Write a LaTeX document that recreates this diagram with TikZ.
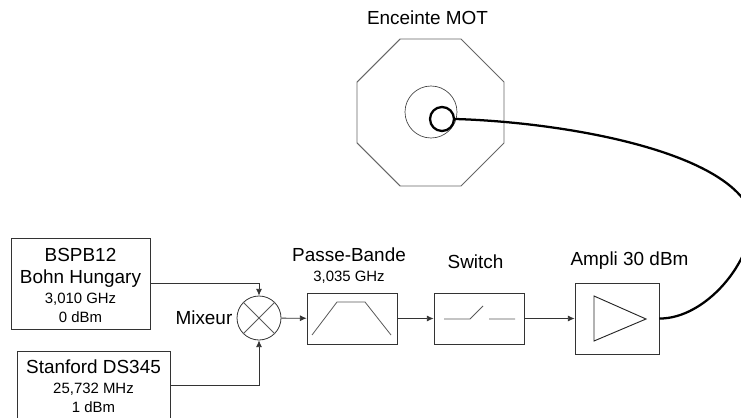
\documentclass[tikz,border=0pt]{standalone}
\usepackage{fontspec}
\setmainfont{Liberation Sans}
\usepackage{tikz}
\usetikzlibrary{arrows.meta,shapes.geometric}
\newcommand{\smalltxt}{\fontsize{11.2pt}{14pt}\selectfont}
\begin{document}
\begin{tikzpicture}[
  x=0.75pt,y=-0.75pt,
  every node/.style={font=\fontsize{14.2pt}{16.5pt}\selectfont,inner sep=0pt},
  box/.style={draw=black!80,line width=0.6pt,align=center},
  arr/.style={-{Latex[length=5pt,width=4.5pt]},line width=0.6pt,draw=black!80},
  sym/.style={line width=0.6pt,draw=black!65},
  cable/.style={line width=1.7pt,black}]
\clip (0,0) rectangle (741,417);
\node[box,minimum width=104.2pt,minimum height=68.2pt] (bspb) at (80.5,283.5)
  {\rule{0pt}{13pt}BSPB12\\Bohn Hungary\\[-1.5pt]{\smalltxt 3,010 GHz}\\[-2pt]{\smalltxt 0 dBm}};
\node[box,minimum width=114.8pt,minimum height=51pt] (stanford) at (93.5,385)
  {\rule{0pt}{12pt}Stanford DS345\\[-1pt]{\smalltxt 25,732 MHz}\\[-2.5pt]{\smalltxt 1 dBm}};
\node[draw=black!80,line width=0.6pt,circle,minimum size=33pt] (mix) at (259,318) {};
\draw[sym] (mix.45) -- (mix.225) (mix.135) -- (mix.-45);
\node[left=3pt] (mixlabel) at (mix.west) {Mixeur};
\node[box,minimum width=67.5pt,minimum height=38.2pt] (bande) at (352,318.5) {};
\node[box,minimum width=67.5pt,minimum height=38.2pt] (switch) at (479,318.5) {};
\node[box,minimum width=63pt,minimum height=53.2pt] (ampli) at (617,318.5) {};
\node[align=center] (bandelabel) at (349,265.5) {Passe-Bande\\[-2pt]{\smalltxt 3,035 GHz}};
\node (switchlabel) at (475.5,262) {Switch};
\node (amplilabel) at (629.5,261) {Ampli 30 dBm};
\draw[sym] (312,335) -- (337,302) -- (365,302) -- (391,335);
\draw[sym] (444,319) -- (470,319) -- (483,306) (489,319) -- (515,319);
\draw[line width=0.7pt,black!85] (594,296) -- (646,319) -- (594,341) -- cycle;
\draw[arr] (bspb.east) -| (mix.north);
\draw[arr] (stanford.east) -| (mix.south);
\foreach \u/\v in {mix/bande,bande/switch,switch/ampli} \draw[arr] (\u) -- (\v);
\node[draw=black!60,line width=0.7pt,regular polygon,regular polygon sides=8,minimum size=119.3pt] (mot) at (430.5,112.5) {};
\node (motlabel) at (427.5,17.5) {Enceinte MOT};
\node[draw=black!75,line width=0.5pt,circle,minimum size=39pt] (inner) at (431,112) {};
\node[draw=black,line width=1.7pt,circle,minimum size=18pt] (coil) at (442,119) {};
\draw[cable] (coil.east) .. controls (560,122) and (730,150) .. (752,215)
  .. controls (754,262) and (705,319) .. (ampli.east);
\end{tikzpicture}
\end{document}
